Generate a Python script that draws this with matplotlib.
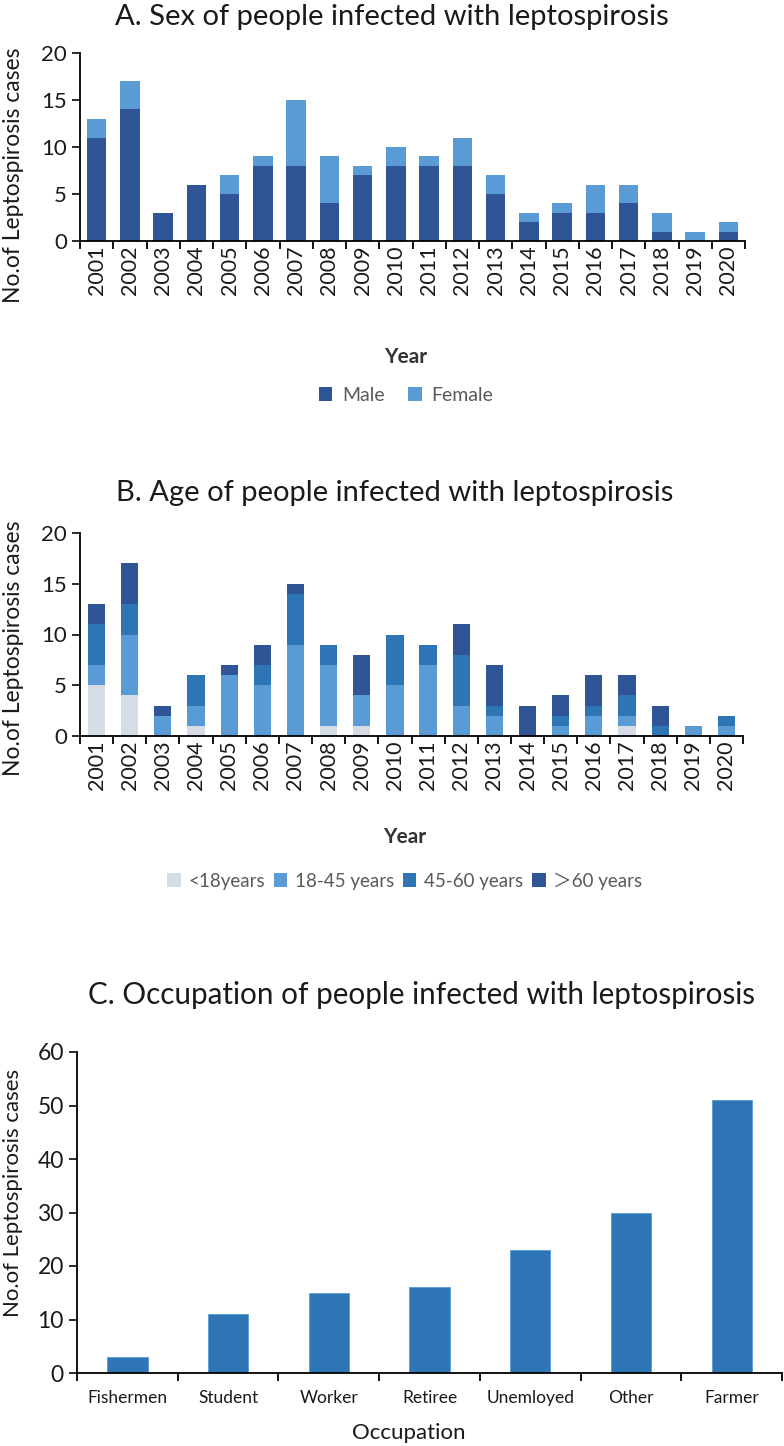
import numpy as np
import matplotlib
matplotlib.use("Agg")
import matplotlib.pyplot as plt

# =========================
# DATA
# =========================

years = [str(y) for y in range(2001, 2021)]

male = [11, 14, 3, 6, 5, 8, 8, 4, 7, 8, 8, 8, 5, 2, 3, 3, 4, 1, 0, 1]
female = [2, 3, 0, 0, 2, 1, 7, 5, 1, 2, 1, 3, 2, 1, 1, 3, 2, 2, 1, 1]

age_lt18 = [5, 4, 0, 1, 0, 0, 0, 1, 1, 0, 0, 0, 0, 0, 0, 0, 1, 0, 0, 0]
age_18_45 = [2, 6, 2, 2, 6, 5, 9, 6, 3, 5, 7, 3, 2, 0, 1, 2, 1, 0, 1, 1]
age_45_60 = [4, 3, 0, 3, 0, 2, 5, 2, 0, 5, 2, 5, 1, 0, 1, 1, 2, 1, 0, 1]
age_gt60 = [2, 4, 1, 0, 1, 2, 1, 0, 4, 0, 0, 3, 4, 3, 2, 3, 2, 2, 0, 0]
age_labels = ["<18years", "18-45 years", "45-60 years", "\uff1e60 years"]

occupations = ["Fishermen", "Student", "Worker", "Retiree", "Unemloyed", "Other", "Farmer"]
occ_cases = [3, 11, 15, 16, 23, 30, 51]

# =========================
# STYLE
# =========================

plt.rcParams["font.family"] = ["Lato", "Noto Sans CJK SC", "DejaVu Sans"]

c_dark = "#2F5597"
c_light = "#5B9BD5"
c_mid = "#2E75B6"
c_pale = "#D6DCE5"
txt = "#1a1a1a"
W, H = 784, 1446

fig = plt.figure(figsize=(W / 100, H / 100), dpi=100)


def px_axes(left, right, top, bottom):
    return fig.add_axes([left / W, 1 - bottom / H, (right - left) / W, (bottom - top) / H])


def style_axes(ax, n):
    for s in ["top", "right"]:
        ax.spines[s].set_visible(False)
    for s in ["left", "bottom"]:
        ax.spines[s].set_linewidth(1.3)
        ax.spines[s].set_color("black")
    ax.set_xlim(-0.5, n - 0.5)
    ax.set_xticks(np.arange(n))
    ax.set_xticks(np.arange(n + 1) - 0.5, minor=True)
    ax.tick_params(axis="x", which="major", length=0)
    ax.tick_params(axis="x", which="minor", length=6, width=1.3, direction="out")
    ax.tick_params(axis="y", length=6, width=1.3, direction="out", labelsize=16, colors=txt)


# =========================
# A. SEX
# =========================

x = np.arange(len(years))
axA = px_axes(80, 745, 53, 241)
axA.bar(x, male, 0.58, color=c_dark, label="Male")
axA.bar(x, female, 0.58, bottom=male, color=c_light, label="Female")
style_axes(axA, len(years))
axA.set_ylim(0, 20)
axA.set_yticks([0, 5, 10, 15, 20])
axA.set_xticklabels(years, rotation=90, fontsize=15.5, color=txt)
axA.set_ylabel("No.of Leptospirosis cases", fontsize=16.5, color=txt)
axA.yaxis.set_label_coords(-0.084, 0.35)
axA.set_xlabel("Year", fontsize=15, fontweight="bold", color="#333333")
axA.xaxis.set_label_coords(0.49, -0.565)
axA.legend(loc="center", bbox_to_anchor=(0.49, -0.82), ncol=2, frameon=False,
           fontsize=14, labelcolor="#595959", handlelength=0.7, handleheight=0.7,
           columnspacing=1.2, handletextpad=0.5)
fig.text(392 / W, 1 - 17 / H, "A. Sex of people infected with leptospirosis",
         ha="center", va="center", fontsize=21, color=txt)

# =========================
# B. AGE
# =========================

axB = px_axes(80, 743, 533, 736)
bottom = np.zeros(len(years))
for vals, col, lab in zip([age_lt18, age_18_45, age_45_60, age_gt60],
                          [c_pale, c_light, c_mid, c_dark], age_labels):
    axB.bar(x, vals, 0.52, bottom=bottom, color=col, label=lab)
    bottom = bottom + np.array(vals)
style_axes(axB, len(years))
axB.set_ylim(0, 20)
axB.set_yticks([0, 5, 10, 15, 20])
axB.set_xticklabels(years, rotation=90, fontsize=15.5, color=txt)
axB.set_ylabel("No.of Leptospirosis cases", fontsize=16.5, color=txt)
axB.yaxis.set_label_coords(-0.084, 0.43)
axB.set_xlabel("Year", fontsize=15, fontweight="bold", color="#333333")
axB.xaxis.set_label_coords(0.49, -0.45)
axB.legend(loc="center", bbox_to_anchor=(0.49, -0.714), ncol=4, frameon=False,
           fontsize=13.5, labelcolor="#595959", handlelength=0.7, handleheight=0.7,
           columnspacing=0.5, handletextpad=0.4)
fig.text(395 / W, 1 - 493 / H, "B. Age of people infected with leptospirosis",
         ha="center", va="center", fontsize=21, color=txt)

# =========================
# C. OCCUPATION
# =========================

xc = np.arange(len(occupations))
axC = px_axes(77, 782, 1052, 1373)
axC.bar(xc, occ_cases, 0.4, color=c_mid, edgecolor="#5B9BD5", linewidth=0.6)
style_axes(axC, len(occupations))
axC.set_ylim(0, 60)
axC.set_yticks([0, 10, 20, 30, 40, 50, 60])
axC.set_xticklabels(occupations, fontsize=12.5, color=txt)
axC.tick_params(axis="x", which="major", pad=12)
axC.tick_params(axis="y", labelsize=16.5)
axC.set_ylabel("No.of Leptospirosis cases", fontsize=16, color=txt)
axC.yaxis.set_label_coords(-0.077, 0.56)
axC.set_xlabel("Occupation", fontsize=16, color=txt)
axC.xaxis.set_label_coords(0.47, -0.155)
fig.text(421 / W, 1 - 995 / H, "C. Occupation of people infected with leptospirosis",
         ha="center", va="center", fontsize=21.3, color=txt)

fig.savefig("out.png", dpi=100)
